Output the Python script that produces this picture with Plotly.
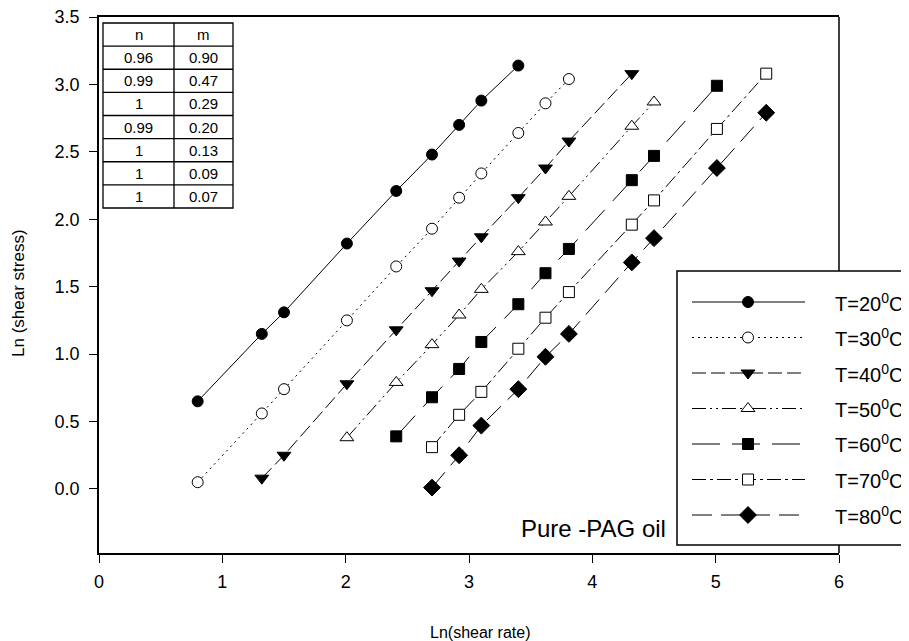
import plotly.graph_objects as go

# ---- data ----
x20 = [0.80, 1.32, 1.50, 2.01, 2.41, 2.70, 2.92, 3.10, 3.40]
y20 = [0.65, 1.15, 1.31, 1.82, 2.21, 2.48, 2.70, 2.88, 3.14]

x30 = [0.80, 1.32, 1.50, 2.01, 2.41, 2.70, 2.92, 3.10, 3.40, 3.62, 3.81]
y30 = [0.05, 0.56, 0.74, 1.25, 1.65, 1.93, 2.16, 2.34, 2.64, 2.86, 3.04]

x40 = [1.32, 1.50, 2.01, 2.41, 2.70, 2.92, 3.10, 3.40, 3.62, 3.81, 4.32]
y40 = [0.08, 0.25, 0.78, 1.18, 1.47, 1.69, 1.87, 2.16, 2.38, 2.58, 3.08]

x50 = [2.01, 2.41, 2.70, 2.92, 3.10, 3.40, 3.62, 3.81, 4.32, 4.50]
y50 = [0.38, 0.79, 1.07, 1.29, 1.48, 1.76, 1.98, 2.17, 2.69, 2.87]

x60 = [2.41, 2.70, 2.92, 3.10, 3.40, 3.62, 3.81, 4.32, 4.50, 5.01]
y60 = [0.39, 0.68, 0.89, 1.09, 1.37, 1.60, 1.78, 2.29, 2.47, 2.99]

x70 = [2.70, 2.92, 3.10, 3.40, 3.62, 3.81, 4.32, 4.50, 5.01, 5.41]
y70 = [0.31, 0.55, 0.72, 1.04, 1.27, 1.46, 1.96, 2.14, 2.67, 3.08]

x80 = [2.70, 2.92, 3.10, 3.40, 3.62, 3.81, 4.32, 4.50, 5.01, 5.41]
y80 = [0.01, 0.25, 0.47, 0.74, 0.98, 1.15, 1.68, 1.86, 2.38, 2.79]

series_names = ["T=20<sup>0</sup>C", "T=30<sup>0</sup>C", "T=40<sup>0</sup>C",
                "T=50<sup>0</sup>C", "T=60<sup>0</sup>C", "T=70<sup>0</sup>C",
                "T=80<sup>0</sup>C"]

table_header = ["n", "m"]
n_vals = ["0.96", "0.99", "1", "0.99", "1", "1", "1"]
m_vals = ["0.90", "0.47", "0.29", "0.20", "0.13", "0.09", "0.07"]

x_ticks = [0, 1, 2, 3, 4, 5, 6]
y_ticks = [0.0, 0.5, 1.0, 1.5, 2.0, 2.5, 3.0, 3.5]

x_title = "Ln(shear rate)"
y_title = "Ln (shear stress)"
note_text = "Pure -PAG oil"

# ---- styles ----
FONT = "Liberation Sans, Arial, sans-serif"
styles = [
    dict(dash="solid", symbol="circle", fill="black", size=11),
    dict(dash="2px,4px", symbol="circle", fill="white", size=11),
    dict(dash="14px,5px", symbol="triangle-down", fill="black", size=12),
    dict(dash="14px,4px,2px,4px,2px,4px", symbol="triangle-up", fill="white", size=12),
    dict(dash="28px,12px", symbol="square", fill="black", size=11),
    dict(dash="14px,4px,3px,4px", symbol="square", fill="white", size=11),
    dict(dash="20px,9px", symbol="diamond", fill="black", size=13),
]

xs = [x20, x30, x40, x50, x60, x70, x80]
ys = [y20, y30, y40, y50, y60, y70, y80]

# The page body has an 8px margin: positions below are screen pixels,
# converted to figure pixels by subtracting OFF.
OFF = 8
W, H = 909, 641
L, R, T, B = 99, 839, 17, 553          # plot area on screen
XR = [0, 6]
YR = [-0.475, 3.5001]
pw, ph = R - L, B - T


def px_x(p):
    return (p - L) / pw


def px_y(p):
    return (B - p) / ph


def dx(p):   # screen px -> data x (for legend keys only)
    return XR[0] + px_x(p) * (XR[1] - XR[0])


def dy(p):   # screen px -> data y (for legend keys only)
    return YR[0] + px_y(p) * (YR[1] - YR[0])


fig = go.Figure()
for i, (xv, yv) in enumerate(zip(xs, ys)):
    s = styles[i]
    fig.add_trace(go.Scatter(
        x=xv, y=yv, mode="lines+markers", name=series_names[i],
        showlegend=False,
        line=dict(color="black", width=1, dash=s["dash"]),
        marker=dict(symbol=s["symbol"], size=s["size"], color=s["fill"],
                    opacity=1, line=dict(color="black", width=1)),
    ))

# ---- hand-made legend ----
leg_x0, leg_x1, leg_y0, leg_y1 = 677, 940, 271, 545
key_x0, key_xm, key_x1 = 692, 748, 805
text_x = 833
row_y0, row_dy = 302, 35.5

for i, s in enumerate(styles):
    yy = dy(row_y0 + i * row_dy)
    fig.add_trace(go.Scatter(
        x=[dx(key_x0), dx(key_x1)], y=[yy, yy], mode="lines",
        showlegend=False, hoverinfo="skip",
        line=dict(color="black", width=1, dash=s["dash"])))
    fig.add_trace(go.Scatter(
        x=[dx(key_xm)], y=[yy], mode="markers",
        showlegend=False, hoverinfo="skip",
        marker=dict(symbol=s["symbol"], size=s["size"], color=s["fill"],
                    opacity=1, line=dict(color="black", width=1))))

shapes = []
annotations = []

shapes.append(dict(type="rect", xref="paper", yref="paper",
                   x0=px_x(leg_x0), x1=px_x(leg_x1), y0=px_y(leg_y1), y1=px_y(leg_y0),
                   line=dict(color="black", width=1.5), fillcolor="white", layer="below"))
# right border of the plot frame (interrupted by the legend box)
for ya, yb in [(T, leg_y0), (leg_y1, B)]:
    shapes.append(dict(type="line", xref="paper", yref="paper", x0=1, x1=1,
                       y0=px_y(ya), y1=px_y(yb), line=dict(color="black", width=1.5)))

for i, name in enumerate(series_names):
    yy = row_y0 + i * row_dy
    annotations.append(dict(xref="paper", yref="paper", x=px_x(text_x), y=px_y(yy),
                            text=name, showarrow=False, xanchor="left", yanchor="middle",
                            font=dict(family=FONT, size=20, color="black")))

# ---- table in upper-left corner ----
tx0, tx1, tdiv = px_x(103), px_x(233), px_x(174)
ty0, ty1 = px_y(23), px_y(208)
rows = [table_header] + [[a, b] for a, b in zip(n_vals, m_vals)]
nrows = len(rows)
rh = (ty0 - ty1) / nrows
shapes.append(dict(type="rect", xref="paper", yref="paper", x0=tx0, x1=tx1,
                   y0=ty1, y1=ty0, line=dict(color="black", width=1.3),
                   fillcolor="white", layer="above"))
shapes.append(dict(type="line", xref="paper", yref="paper", x0=tdiv, x1=tdiv,
                   y0=ty1, y1=ty0, line=dict(color="black", width=1.3)))
for r in range(1, nrows):
    yy = ty0 - r * rh
    shapes.append(dict(type="line", xref="paper", yref="paper", x0=tx0, x1=tx1,
                       y0=yy, y1=yy, line=dict(color="black", width=1.3)))
for r, (a, b) in enumerate(rows):
    yc = ty0 - (r + 0.5) * rh
    for txt, xc in [(a, (tx0 + tdiv) / 2), (b, (tdiv + tx1) / 2)]:
        annotations.append(dict(xref="paper", yref="paper", x=xc, y=yc,
                                text=txt, showarrow=False, xanchor="center",
                                yanchor="middle",
                                font=dict(family=FONT, size=15, color="black")))

# ---- note and axis titles ----
annotations.append(dict(xref="paper", yref="paper", x=px_x(668), y=px_y(528),
                        text=note_text, showarrow=False, xanchor="right",
                        yanchor="middle", font=dict(family=FONT, size=24, color="black")))
annotations.append(dict(xref="paper", yref="paper", x=px_x(481), y=px_y(632),
                        text=x_title, showarrow=False, xanchor="center",
                        yanchor="middle", font=dict(family=FONT, size=16, color="black")))
annotations.append(dict(xref="paper", yref="paper", x=px_x(18), y=px_y(293),
                        text=y_title, showarrow=False, xanchor="center", textangle=-90,
                        yanchor="middle", font=dict(family=FONT, size=17, color="black")))

fig.update_layout(
    width=W, height=H,
    margin=dict(l=L - OFF, r=W - (R - OFF), t=T - OFF, b=H - (B - OFF), autoexpand=False),
    paper_bgcolor="white", plot_bgcolor="rgba(0,0,0,0)",
    font=dict(family=FONT, size=18, color="black"),
    showlegend=False,
    shapes=shapes,
    annotations=annotations,
    xaxis=dict(range=XR, tickvals=x_ticks, ticktext=[str(v) for v in x_ticks],
               ticks="outside", ticklen=8, tickwidth=1.3, tickcolor="black",
               showline=True, linecolor="black", linewidth=1.5, mirror=True,
               showgrid=False, zeroline=False, tickfont=dict(size=18),
               ticklabelstandoff=4, ticklabeloverflow="allow"),
    yaxis=dict(range=YR, tickvals=y_ticks,
               ticktext=[f"{v:.1f}" for v in y_ticks],
               ticks="outside", ticklen=8, tickwidth=1.3, tickcolor="black",
               showline=True, linecolor="black", linewidth=1.5, mirror=False,
               showgrid=False, zeroline=False, tickfont=dict(size=18),
               ticklabelstandoff=6, ticklabeloverflow="allow"),
)

fig.write_html("out.html")
